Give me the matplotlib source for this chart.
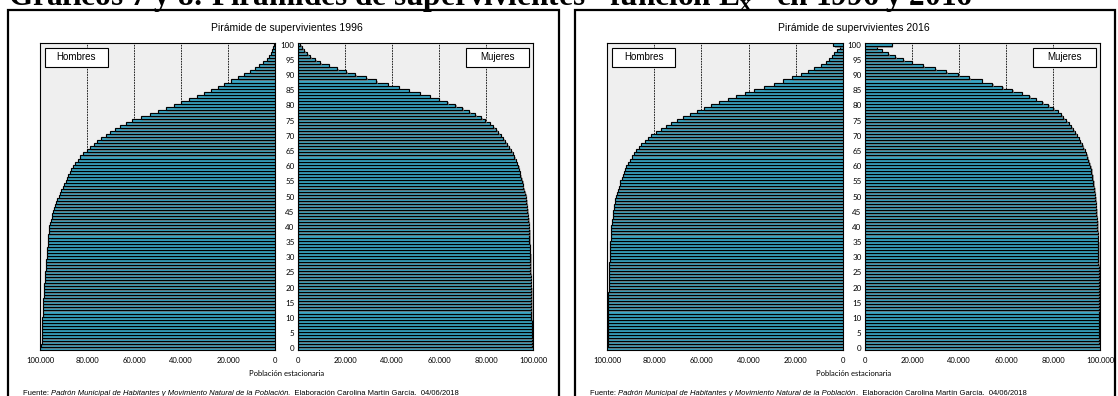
import numpy as np
import matplotlib
matplotlib.use("Agg")
import matplotlib.pyplot as plt
from matplotlib.patches import Rectangle
import matplotlib.patheffects as pe

W, H = 1118, 396

ages = list(range(0, 101))

# Population (thousands) surviving at each age, age 0 -> 100
hombres_1996 = [100.0, 99.4, 99.35, 99.3, 99.25, 99.2, 99.15, 99.1, 99.05, 99.0,
                98.95, 98.9, 98.85, 98.8, 98.75, 98.7, 98.6, 98.5, 98.4, 98.3,
                98.2, 98.1, 98.0, 97.9, 97.8, 97.7, 97.6, 97.5, 97.4, 97.3,
                97.2, 97.1, 97.0, 96.9, 96.8, 96.7, 96.6, 96.5, 96.35, 96.2,
                96.0, 95.7, 95.4, 95.1, 94.8, 94.5, 94.1, 93.6, 93.1, 92.6,
                92.0, 91.5, 90.9, 90.3, 89.6, 88.9, 88.4, 87.9, 87.3, 86.7,
                86.0, 85.1, 84.0, 82.8, 81.5, 80.0, 78.7, 77.2, 75.6, 73.9,
                72.0, 70.2, 68.2, 66.0, 63.5, 61.0, 57.0, 53.2, 49.8, 46.2,
                43.0, 39.8, 36.6, 33.3, 30.3, 27.2, 24.4, 21.5, 18.6, 15.8,
                13.2, 10.8, 8.6, 6.6, 4.9, 3.6, 2.6, 1.8, 1.2, 0.8, 0.4]

mujeres_1996 = [100.0, 99.6, 99.57, 99.54, 99.51, 99.48, 99.45, 99.42, 99.4, 99.38,
                99.36, 99.34, 99.32, 99.3, 99.27, 99.24, 99.21, 99.18, 99.15, 99.12,
                99.09, 99.06, 99.03, 99.0, 98.96, 98.92, 98.88, 98.84, 98.8, 98.76,
                98.72, 98.68, 98.63, 98.58, 98.53, 98.48, 98.43, 98.38, 98.33, 98.27,
                98.2, 98.1, 98.0, 97.9, 97.8, 97.6, 97.5, 97.3, 97.2, 97.0,
                96.9, 96.6, 96.2, 95.9, 95.6, 95.3, 95.0, 94.6, 94.3, 93.9,
                93.6, 93.1, 92.6, 92.0, 91.4, 90.8, 89.9, 89.0, 88.1, 87.2,
                86.2, 85.3, 84.3, 83.0, 81.5, 79.7, 77.9, 75.5, 72.9, 69.9,
                66.8, 63.4, 59.9, 56.0, 51.8, 47.1, 42.8, 38.2, 33.3, 29.0,
                24.4, 20.6, 16.6, 13.0, 9.5, 7.4, 5.2, 3.8, 2.7, 1.7, 1.0]

hombres_2016 = [100.0, 99.75, 99.72, 99.7, 99.68, 99.66, 99.64, 99.62, 99.6, 99.58,
                99.56, 99.54, 99.52, 99.5, 99.48, 99.46, 99.43, 99.4, 99.37, 99.34,
                99.3, 99.26, 99.22, 99.18, 99.14, 99.1, 99.05, 99.0, 98.95, 98.9,
                98.85, 98.8, 98.74, 98.68, 98.62, 98.55, 98.48, 98.4, 98.3, 98.2,
                98.1, 97.95, 97.8, 97.65, 97.5, 97.3, 97.1, 96.9, 96.65, 96.4,
                96.1, 95.8, 95.45, 95.1, 94.7, 94.3, 93.85, 93.4, 92.9, 92.35,
                91.8, 91.1, 90.4, 89.6, 88.7, 87.7, 86.6, 85.4, 84.1, 82.7,
                81.2, 79.3, 77.3, 75.0, 72.7, 70.3, 67.7, 65.0, 62.0, 59.0,
                55.8, 52.4, 48.8, 45.2, 41.4, 37.7, 33.6, 29.4, 25.4, 21.6,
                18.0, 14.8, 12.1, 9.3, 7.2, 6.0, 4.7, 3.7, 2.5, 1.4, 4.2]

mujeres_2016 = [100.0, 99.8, 99.78, 99.76, 99.75, 99.74, 99.73, 99.72, 99.71, 99.7,
                99.69, 99.68, 99.67, 99.66, 99.65, 99.63, 99.61, 99.59, 99.57, 99.55,
                99.53, 99.51, 99.49, 99.47, 99.45, 99.43, 99.41, 99.39, 99.36, 99.33,
                99.3, 99.27, 99.24, 99.2, 99.16, 99.12, 99.07, 99.02, 98.96, 98.9,
                98.83, 98.75, 98.67, 98.58, 98.49, 98.4, 98.3, 98.2, 98.1, 98.0,
                97.85, 97.7, 97.55, 97.4, 97.2, 97.0, 96.8, 96.6, 96.35, 96.1,
                95.8, 95.4, 95.0, 94.5, 94.0, 93.5, 92.9, 92.3, 91.6, 90.9,
                90.1, 89.3, 88.5, 87.6, 86.6, 85.5, 84.4, 83.4, 82.0, 80.1,
                78.0, 75.5, 72.6, 69.9, 66.7, 62.7, 58.4, 54.2, 49.6, 44.4,
                39.7, 34.5, 29.8, 24.8, 19.9, 16.3, 12.8, 9.9, 7.1, 5.0, 11.3]

x_ticks = [0, 20000, 40000, 60000, 80000, 100000]
x_ticklabels = ["0", "20.000", "40.000", "60.000", "80.000", "100.000"]
y_ticks = list(range(0, 101, 5))

titulo = 'Gráficos 7 y 8: Pirámides de supervivientes "función L$_{\\mathregular{x}}$" en 1996 y 2016'
paneles = [
    dict(year="1996", h=hombres_1996, m=mujeres_1996, box=(8, 559),
         axh=(40, 275), axm=(298, 533)),
    dict(year="2016", h=hombres_2016, m=mujeres_2016, box=(575, 1115),
         axh=(607, 843), axm=(865, 1100)),
]

BAR = "#3aa6c4"
BG = "#efefef"
SANS = "Liberation Sans"
TICKF = "Lato"

fig = plt.figure(figsize=(W / 100, H / 100), dpi=100)
fig.patch.set_facecolor("white")

def fx(px):
    return px / W

def fy(py):
    return 1 - py / H

ax_top, ax_bot = 43, 350

fig.text(fx(8), fy(5), titulo, fontsize=22.5, fontweight="bold",
         family="Liberation Serif", ha="left", va="baseline")

shadow = [pe.SimplePatchShadow(offset=(1.2, -1.2), shadow_rgbFace="#808080", alpha=0.7),
          pe.Normal()]

for p in paneles:
    x0, x1 = p["box"]
    fig.add_artist(Rectangle((fx(x0), fy(H + 20)), fx(x1 - x0), fy(10) - fy(H + 20),
                             transform=fig.transFigure, fill=False,
                             edgecolor="black", linewidth=1.6))
    for side in ("h", "m"):
        a0, a1 = p["ax" + side]
        ax = fig.add_axes([fx(a0), fy(ax_bot), fx(a1 - a0), fy(ax_top) - fy(ax_bot)])
        ax.set_facecolor(BG)
        vals = np.array(p[side]) * 1000
        bars = ax.barh(ages, vals, height=1.0, color=BAR, edgecolor="black",
                       linewidth=0.85, zorder=3)
        for b in bars:
            b.set_path_effects(shadow)
        for g in [20000, 40000, 60000, 80000]:
            ax.axvline(g, color="black", linewidth=0.6, linestyle=(0, (2, 1.2)), zorder=1)
        ax.set_ylim(-0.5, 100.5)
        if side == "h":
            ax.set_xlim(100000, 0)
        else:
            ax.set_xlim(0, 100000)
        ax.set_xticks(x_ticks)
        ax.set_xticklabels(x_ticklabels, fontsize=5.5, family=TICKF)
        ax.tick_params(axis="x", length=0, pad=5)
        if side == "m":
            ax.set_yticks(y_ticks)
            ax.set_yticklabels([str(v) for v in y_ticks], fontsize=5.8, family=TICKF)
            ax.tick_params(axis="y", length=0, pad=2.5)
        else:
            ax.set_yticks([])
        for s in ax.spines.values():
            s.set_linewidth(0.8)
            s.set_color("black")
        label = "Hombres" if side == "h" else "Mujeres"
        bx = 0.021 if side == "h" else 0.713
        ax.add_patch(Rectangle((bx, 0.922), 0.268, 0.062, transform=ax.transAxes,
                               facecolor="white", edgecolor="black", linewidth=0.8,
                               zorder=6))
        ax.text(bx + 0.134, 0.953, label, transform=ax.transAxes, ha="center",
                va="center", fontsize=7, family=SANS, zorder=7)
        if side == "h":
            axh = ax
    cx = (p["axh"][0] + p["axm"][1]) / 2
    fig.text(fx(cx), fy(28), "Pirámide de supervivientes " + p["year"], ha="center",
             va="center", fontsize=7.5, family=SANS)
    fig.text(fx(cx), fy(373), "Población estacionaria", ha="center", va="center",
             fontsize=5.5, family=TICKF)
    t1 = fig.text(fx(x0 + 15), fy(395), "Fuente: ", ha="left", va="baseline",
                  fontsize=5.5, family=SANS)
    t2 = axh.annotate("Padrón Municipal de Habitantes y Movimiento Natural de la Población",
                      xy=(1, 0), xycoords=t1, ha="left", va="bottom",
                      fontsize=5.5, family=SANS, style="italic", annotation_clip=False)
    axh.annotate(".  Elaboración Carolina Martín García.  04/06/2018",
                 xy=(1, 0), xycoords=t2, ha="left", va="bottom",
                 fontsize=5.5, family=SANS, annotation_clip=False)

fig.savefig("out.png", dpi=100, facecolor="white")
